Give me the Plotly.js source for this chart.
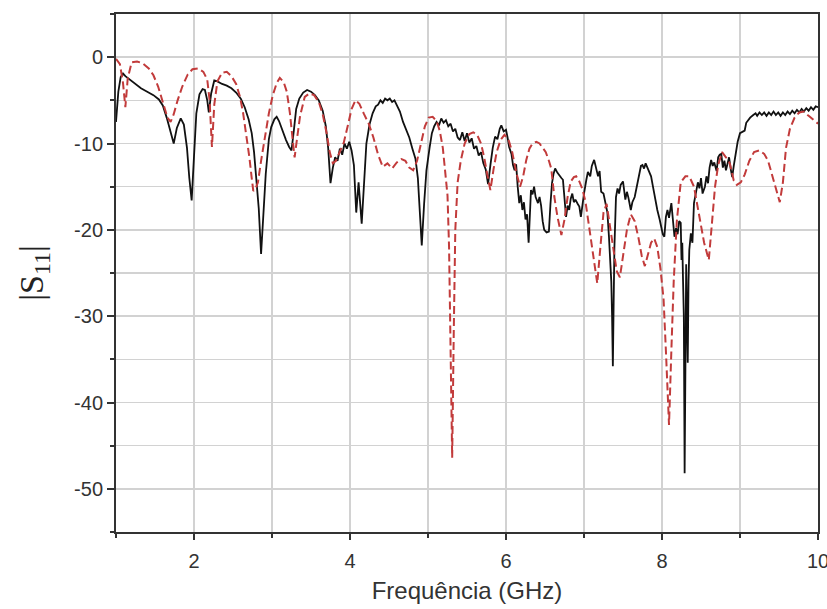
<!DOCTYPE html>
<html>
<head>
<meta charset="utf-8">
<script src="https://cdn.plot.ly/plotly-3.0.1.min.js"></script>
<style>html,body{margin:0;padding:0;background:#fff;}#chart{width:827px;height:609px;}</style>
</head>
<body>
<div id="chart"></div>
<script>
// Measured |S11| (black solid)
const freqMeasured = [1.00,1.03,1.06,1.09,1.12,1.18,1.25,1.32,1.40,1.48,1.55,1.60,1.65,1.70,1.74,1.78,1.83,1.87,1.91,1.94,1.97,2.00,2.03,2.07,2.11,2.14,2.17,2.19,2.22,2.26,2.30,2.36,2.42,2.48,2.54,2.60,2.65,2.70,2.74,2.77,2.80,2.83,2.86,2.89,2.92,2.96,2.99,3.03,3.06,3.09,3.13,3.18,3.22,3.25,3.28,3.31,3.35,3.40,3.45,3.50,3.55,3.60,3.65,3.69,3.72,3.75,3.78,3.81,3.84,3.87,3.90,3.93,3.96,3.99,4.02,4.05,4.08,4.11,4.15,4.18,4.21,4.25,4.29,4.33,4.36,4.39,4.42,4.45,4.48,4.51,4.54,4.57,4.60,4.64,4.68,4.72,4.76,4.80,4.84,4.87,4.90,4.92,4.95,4.98,5.02,5.05,5.08,5.11,5.14,5.17,5.20,5.23,5.26,5.29,5.32,5.35,5.38,5.41,5.44,5.47,5.50,5.53,5.56,5.59,5.62,5.65,5.68,5.71,5.74,5.77,5.80,5.83,5.86,
5.89,5.92,5.94,5.97,6.00,6.02,6.04,6.07,6.09,6.11,6.13,6.15,6.17,6.19,6.21,6.23,6.25,6.27,6.29,6.31,6.32,6.34,6.36,6.38,6.41,6.43,6.45,6.47,6.49,6.52,6.55,6.57,6.59,6.61,6.63,6.66,6.68,6.71,6.73,6.75,6.77,6.79,6.81,6.83,6.85,6.87,6.89,6.92,6.94,6.96,6.98,7.00,7.03,7.05,7.08,7.10,7.13,7.15,7.18,7.20,7.22,7.25,7.27,7.30,7.32,7.34,7.35,7.36,7.37,7.38,7.39,7.41,7.43,7.45,7.47,7.50,7.52,7.53,7.55,7.57,7.60,7.62,7.65,7.68,7.71,7.73,7.75,7.77,7.79,7.81,7.83,7.86,7.88,7.90,7.92,7.94,7.97,7.99,8.01,8.03,8.05,8.07,8.09,8.12,8.14,8.16,8.18,8.20,8.22,8.24,8.25,8.26,8.27,8.28,8.29,8.30,8.31,8.32,8.33,8.34,8.35,8.37,8.39,8.41,8.43,8.46,8.48,8.50,8.52,8.55,8.57,8.59,8.61,8.63,8.65,8.67,8.70,8.72,8.74,8.76,8.78,8.80,8.82,8.84,8.86,8.88,8.90,8.92,8.95,8.97,9.00,9.03,9.06,9.08,9.10,9.13,9.17,9.20,9.22,9.25,9.28,9.31,9.34,9.37,9.40,9.43,9.46,9.49,9.52,9.55,9.58,9.61,9.64,9.67,9.70,9.73,9.76,9.79,9.82,9.85,9.88,9.91,9.94,9.97,10.00];
const s11Measured = [-7.5,-4.0,-2.3,-1.9,-2.2,-2.6,-3.1,-3.6,-4.0,-4.4,-4.9,-5.6,-7.0,-8.8,-10.0,-8.2,-7.1,-7.8,-10.5,-14.0,-16.6,-11.5,-6.5,-4.3,-3.7,-3.8,-5.0,-6.4,-4.2,-2.7,-2.8,-3.1,-3.3,-3.6,-4.1,-4.8,-5.8,-7.2,-8.8,-11.0,-14.3,-17.5,-22.8,-18.5,-13.5,-9.5,-8.1,-7.2,-6.9,-7.4,-8.5,-9.6,-10.4,-10.8,-8.5,-6.0,-4.8,-4.1,-3.8,-4.0,-4.4,-5.0,-6.2,-8.0,-10.5,-14.6,-12.8,-11.6,-12.0,-10.6,-11.3,-10.0,-10.6,-9.8,-10.8,-12.5,-18.0,-14.5,-19.3,-14.0,-10.0,-7.8,-6.5,-5.7,-5.5,-5.0,-5.3,-4.8,-5.0,-4.8,-5.2,-5.0,-5.6,-6.3,-7.5,-8.5,-9.3,-10.6,-11.8,-14.0,-18.0,-21.8,-17.0,-13.1,-10.5,-8.8,-8.0,-7.5,-7.9,-7.1,-7.6,-7.3,-8.0,-7.7,-8.6,-8.3,-9.3,-9.6,-8.7,-9.7,-8.8,-9.9,-9.4,-10.6,-10.3,-11.4,-11.0,-12.3,-13.0,-14.7,-12.5,-10.5,-9.2,
-9.5,-8.3,-7.9,-8.6,-8.4,-9.3,-10.4,-11.2,-12.5,-13.1,-12.4,-15.0,-16.9,-16.0,-17.7,-16.8,-18.8,-18.2,-21.5,-17.5,-15.4,-15.9,-15.0,-16.2,-16.9,-16.2,-17.2,-19.0,-20.0,-20.3,-20.2,-17.0,-14.6,-13.5,-12.9,-13.4,-13.7,-14.0,-14.2,-16.5,-18.5,-17.2,-17.7,-16.4,-15.8,-16.8,-16.5,-17.0,-17.3,-18.5,-17.0,-15.8,-14.2,-13.3,-13.8,-12.6,-11.9,-12.8,-13.8,-13.2,-15.6,-15.8,-16.7,-18.0,-20.8,-23.5,-26.0,-30.0,-35.8,-28.5,-22.0,-16.2,-15.2,-15.8,-14.8,-14.4,-15.5,-16.5,-15.6,-16.3,-17.7,-16.8,-16.2,-14.8,-13.7,-12.6,-12.5,-12.9,-12.3,-12.8,-13.2,-13.8,-14.8,-15.8,-16.8,-17.7,-18.8,-19.6,-20.5,-20.8,-18.5,-17.7,-18.6,-16.9,-18.5,-20.8,-19.8,-20.5,-19.0,-19.2,-23.5,-21.5,-26.0,-30.0,-48.2,-28.0,-24.0,-30.0,-35.4,-26.0,-22.3,-20.4,-21.5,-16.9,-16.0,-14.5,-15.2,-14.0,-15.8,-15.0,-13.8,-14.6,-12.8,-11.9,-12.6,-12.2,-13.2,-11.6,-11.3,-11.2,-12.8,-12.0,-13.1,-12.2,-11.6,-12.9,-13.9,-12.6,-11.0,-9.8,-8.8,-8.6,-8.5,-7.6,-7.3,-7.0,-6.7,-6.5,-6.8,-6.4,-6.7,-6.4,-6.8,-6.4,-6.7,-6.3,-6.7,-6.4,-6.8,-6.4,-6.7,-6.3,-6.6,-6.2,-6.5,-6.1,-6.4,-6.0,-6.3,-5.9,-6.2,-5.8,-6.1,-5.7,-5.8];

// Simulated |S11| (red dashed)
const freqSimulated = [1.00,1.05,1.09,1.12,1.15,1.20,1.27,1.34,1.42,1.48,1.54,1.60,1.66,1.70,1.74,1.79,1.85,1.92,1.98,2.05,2.12,2.17,2.20,2.23,2.26,2.30,2.36,2.42,2.48,2.54,2.59,2.63,2.67,2.71,2.74,2.76,2.79,2.82,2.86,2.91,2.96,3.01,3.06,3.10,3.15,3.19,3.23,3.27,3.29,3.32,3.36,3.42,3.48,3.54,3.60,3.65,3.70,3.74,3.78,3.82,3.87,3.92,3.97,4.02,4.07,4.12,4.18,4.24,4.30,4.36,4.42,4.48,4.54,4.60,4.66,4.71,4.76,4.81,4.86,4.91,4.96,5.01,5.06,5.11,5.15,5.19,5.22,5.25,5.27,5.29,5.31,5.33,5.35,5.38,5.42,5.47,5.53,5.58,5.63,5.68,5.72,5.76,5.80,5.84,5.88,5.93,5.98,6.03,6.08,6.13,6.18,6.22,6.26,6.30,6.34,6.39,6.43,6.47,6.51,6.55,6.58,6.62,6.66,6.71,6.75,6.79,6.83,6.87,6.90,6.94,6.98,7.02,7.05,7.09,7.13,7.17,7.21,7.25,7.29,7.33,7.38,7.42,7.46,7.50,7.55,7.60,7.65,7.70,7.74,7.78,7.82,7.86,7.90,7.94,7.98,8.02,8.05,8.09,8.12,8.15,8.19,8.24,8.30,8.35,8.41,8.48,8.54,8.60,8.64,8.68,8.72,8.77,8.82,8.87,8.92,8.96,9.01,9.06,9.12,9.18,9.25,9.31,9.36,9.41,9.46,9.51,9.55,9.59,9.64,9.70,9.76,9.82,9.88,9.94,10.00];
const s11Simulated = [-0.2,-0.8,-3.0,-5.8,-2.5,-0.6,-0.5,-0.7,-1.3,-2.1,-3.4,-5.2,-7.0,-7.5,-6.6,-5.0,-3.4,-2.0,-1.4,-1.3,-1.7,-2.6,-5.0,-10.4,-5.5,-2.8,-1.8,-1.7,-2.2,-3.1,-4.6,-6.5,-9.0,-11.6,-14.0,-15.5,-15.2,-14.5,-12.0,-9.0,-6.5,-4.4,-3.0,-2.4,-2.9,-4.0,-6.5,-10.0,-11.6,-9.5,-6.8,-4.6,-4.2,-4.4,-5.2,-6.6,-8.8,-11.0,-12.3,-12.0,-11.0,-9.9,-8.0,-6.0,-5.0,-5.4,-6.6,-7.7,-9.3,-11.3,-12.7,-12.3,-12.9,-12.2,-11.8,-12.0,-12.8,-13.1,-12.0,-10.0,-8.0,-7.0,-6.9,-7.4,-8.5,-10.5,-13.0,-16.0,-22.0,-32.0,-46.4,-32.0,-20.0,-14.5,-12.0,-10.0,-8.9,-8.7,-9.0,-10.0,-11.6,-13.6,-15.4,-13.0,-11.0,-9.6,-9.0,-9.5,-11.0,-13.3,-15.0,-13.8,-11.9,-10.6,-10.0,-9.8,-10.0,-10.5,-11.0,-12.0,-12.9,-16.2,-18.5,-20.6,-18.8,-16.2,-14.4,-13.9,-13.8,-14.4,-15.3,-16.8,-18.8,-21.5,-23.8,-26.2,-22.0,-18.0,-17.0,-19.5,-22.5,-24.8,-25.5,-23.0,-20.0,-18.2,-19.0,-21.0,-23.0,-24.2,-23.0,-21.5,-21.0,-22.0,-24.5,-28.0,-34.0,-42.6,-34.0,-26.0,-19.0,-14.5,-13.8,-13.8,-15.0,-18.5,-21.5,-23.5,-19.5,-15.0,-12.5,-11.0,-11.6,-12.3,-14.3,-14.8,-14.5,-13.6,-12.0,-11.0,-10.8,-11.2,-12.0,-13.6,-15.5,-16.8,-14.5,-10.5,-8.3,-7.0,-6.4,-6.3,-6.8,-7.2,-7.7];

// Axis ticks
const xTickVals = [2, 4, 6, 8, 10];
const xTickText = ['2', '4', '6', '8', '10'];
const yTickVals = [0, -10, -20, -30, -40, -50];
const yTickText = ['0', '-10', '-20', '-30', '-40', '-50'];

const gridColor = '#d2d2d2';
const axisColor = '#333333';
const tickFont = {family: 'Liberation Sans, Arial, sans-serif', size: 20, color: '#333333'};

const traces = [
  {
    x: freqMeasured, y: s11Measured, type: 'scatter', mode: 'lines',
    line: {color: '#111111', width: 1.8}, name: 'Medido', hoverinfo: 'skip'
  },
  {
    x: freqSimulated, y: s11Simulated, type: 'scatter', mode: 'lines',
    line: {color: '#c23b3b', width: 2, dash: '8px,4px'}, name: 'Simulado', hoverinfo: 'skip'
  }
];

const layout = {
  width: 827, height: 609,
  margin: {l: 116, r: 9, t: 14, b: 77},
  paper_bgcolor: '#ffffff', plot_bgcolor: '#ffffff',
  showlegend: false,
  xaxis: {
    range: [1, 10],
    tickmode: 'array', tickvals: xTickVals, ticktext: xTickText,
    ticks: 'outside', ticklen: 6, tickwidth: 2, tickcolor: axisColor,
    ticklabelstandoff: 4, ticklabeloverflow: 'allow',
    showline: true, linecolor: axisColor, linewidth: 2, mirror: true,
    showgrid: true, gridcolor: gridColor, gridwidth: 1.5, zeroline: false,
    tickfont: tickFont,
    minor: {dtick: 1, tick0: 1, ticks: 'outside', ticklen: 4, tickwidth: 2, tickcolor: axisColor,
            showgrid: true, gridcolor: gridColor, gridwidth: 1.5},
    title: {text: 'Frequência (GHz)', font: {family: 'Liberation Sans, Arial, sans-serif', size: 24, color: '#333333'}, standoff: 11}
  },
  yaxis: {
    range: [-55, 5],
    tickmode: 'array', tickvals: yTickVals, ticktext: yTickText,
    ticks: 'outside', ticklen: 7, tickwidth: 2, tickcolor: axisColor,
    ticklabeloverflow: 'allow',
    showline: true, linecolor: axisColor, linewidth: 2, mirror: true,
    showgrid: true, gridcolor: gridColor, gridwidth: 1.5, zeroline: false,
    tickfont: tickFont,
    minor: {dtick: 5, tick0: 0, ticks: 'outside', ticklen: 4, tickwidth: 2, tickcolor: axisColor,
            showgrid: true, gridcolor: gridColor, gridwidth: 1.5},
    title: {text: '|S<sub>11</sub>|', font: {family: 'Liberation Serif, Times New Roman, serif', size: 34, color: '#222222'}, standoff: 20}
  }
};

Plotly.newPlot('chart', traces, layout, {displayModeBar: false, staticPlot: true});
</script>
</body>
</html>
